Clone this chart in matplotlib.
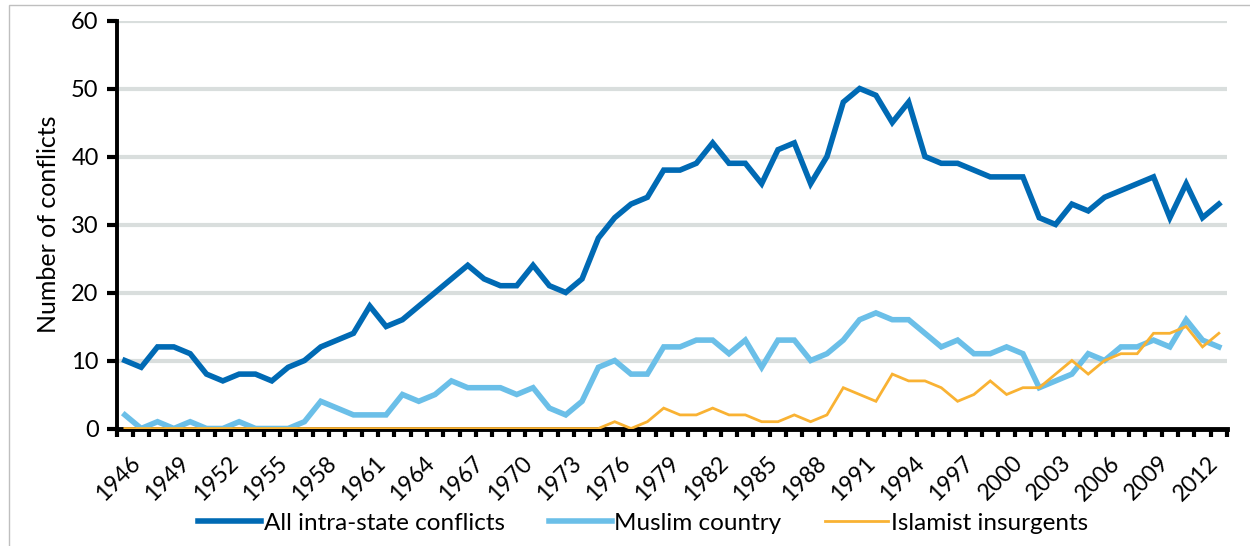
import matplotlib
matplotlib.use("Agg")
import matplotlib.pyplot as plt
from matplotlib.patches import Rectangle
import matplotlib.transforms as mtransforms
import numpy as np

years = list(range(1946, 2014))
all_intrastate = [10, 9, 12, 12, 11, 8, 7, 8, 8, 7, 9, 10, 12, 13, 14, 18, 15, 16, 18, 20,
                  22, 24, 22, 21, 21, 24, 21, 20, 22, 28, 31, 33, 34, 38, 38, 39, 42, 39, 39, 36,
                  41, 42, 36, 40, 48, 50, 49, 45, 48, 40, 39, 39, 38, 37, 37, 37, 31, 30, 33, 32,
                  34, 35, 36, 37, 31, 36, 31, 33]
muslim_country = [2, 0, 1, 0, 1, 0, 0, 1, 0, 0, 0, 1, 4, 3, 2, 2, 2, 5, 4, 5,
                  7, 6, 6, 6, 5, 6, 3, 2, 4, 9, 10, 8, 8, 12, 12, 13, 13, 11, 13, 9,
                  13, 13, 10, 11, 13, 16, 17, 16, 16, 14, 12, 13, 11, 11, 12, 11, 6, 7, 8, 11,
                  10, 12, 12, 13, 12, 16, 13, 12]
islamist_insurgents = [0, 0, 0, 0, 0, 0, 0, 0, 0, 0, 0, 0, 0, 0, 0, 0, 0, 0, 0, 0,
                       0, 0, 0, 0, 0, 0, 0, 0, 0, 0, 1, 0, 1, 3, 2, 2, 3, 2, 2, 1,
                       1, 2, 1, 2, 6, 5, 4, 8, 7, 7, 6, 4, 5, 7, 5, 6, 6, 8, 10, 8,
                       10, 11, 11, 14, 14, 15, 12, 14]
series_names = ["All intra-state conflicts", "Muslim country", "Islamist insurgents"]
y_ticks = [0, 10, 20, 30, 40, 50, 60]

FONT = ["Lato", "DejaVu Sans"]
plt.rcParams['font.family'] = FONT

fig = plt.figure(figsize=(12.5, 5.46), dpi=100)
W, H = 1250, 546
# chart border (light gray)
fig.patches.append(Rectangle((9 / W, -0.05), 1.1, (546 - 5) / H + 0.05, transform=fig.transFigure,
                             fill=False, edgecolor="#BFBFBF", linewidth=1.0))

left, right, top, bottom = 116.7, 1227, 20.5, 428.5
ax = fig.add_axes([left / W, 1 - bottom / H, (right - left) / W, (bottom - top) / H])

x = np.arange(len(years))
ax.plot(x, all_intrastate, color="#006AB4", lw=4.0, solid_joinstyle="miter", zorder=3,
        label=series_names[0])
ax.plot(x, muslim_country, color="#6BBFE8", lw=4.0, solid_joinstyle="miter", zorder=4,
        label=series_names[1])
ax.plot(x, islamist_insurgents, color="#F9B233", lw=2.0, solid_joinstyle="miter", zorder=5,
        label=series_names[2])

ax.set_xlim(-0.5, len(years) - 0.5)
ax.set_ylim(0, 60)
ax.set_yticks(y_ticks)
ax.set_yticklabels([str(v) for v in y_ticks], fontsize=17)

for v in y_ticks[1:]:
    ax.axhline(v, color="#D9DEDD", lw=3.0, zorder=1)

for s in ["top", "right"]:
    ax.spines[s].set_visible(False)
ax.spines["left"].set_linewidth(2.8)
ax.spines["bottom"].set_linewidth(3.5)
ax.spines["left"].set_zorder(6)
ax.spines["bottom"].set_zorder(2)

# x labels every 3 years at centers; tick marks at category boundaries
label_idx = list(range(0, len(years), 3))
ax.set_xticks(label_idx)
ax.set_xticklabels([str(years[i]) for i in label_idx], fontsize=16.5, rotation=45,
                   ha="right", va="top", rotation_mode="anchor")
ax.set_xticks(np.arange(-0.5, len(years), 1.0), minor=True)
ax.tick_params(axis="x", which="major", length=0, pad=17)
ax.tick_params(axis="x", which="minor", length=6, width=3, direction="out", color="black")
ax.tick_params(axis="y", length=7, width=3, direction="out", pad=6)
offset = mtransforms.ScaledTranslation(5 / 100, 0, fig.dpi_scale_trans)
for lbl in ax.get_xticklabels():
    lbl.set_transform(lbl.get_transform() + offset)

ax.set_ylabel("Number of conflicts", fontsize=18, labelpad=8)
ax.patch.set_alpha(0)

fig.legend(loc="center", bbox_to_anchor=(643 / W, 1 - 523 / H), ncol=3, frameon=False,
           fontsize=17.5, handlelength=2.6, handletextpad=0.1, columnspacing=1.8)

fig.savefig("out.png", dpi=100)
